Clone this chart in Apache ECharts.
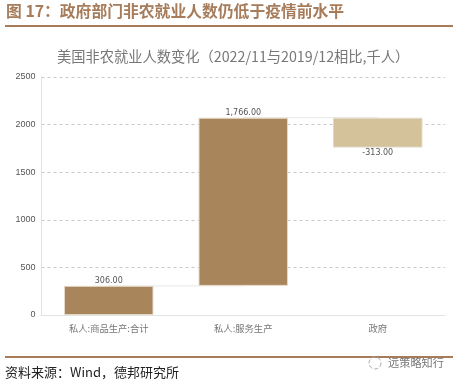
<!DOCTYPE html>
<html><head><meta charset="utf-8">
<style>html,body{margin:0;padding:0;background:#fff}#c{width:458px;height:383px}</style>
<script src="https://cdn.jsdelivr.net/npm/echarts@6/dist/echarts.min.js"></script>
</head><body><div id="c"></div>
<script>
const categories = ['私人:商品生产:合计', '私人:服务生产', '政府'];
const changes = [306, 1766, -313];
const baseValues = [0, 306, 1759];
const barHeights = [306, 1766, 313];
const barColors = ['#A9855C', '#A9855C', '#D3C29A'];
const connectorA = [306, 306, null];
const connectorB = [null, 2072, 2072];
const yTicks = [0, 500, 1000, 1500, 2000, 2500];
const cjk = '"Noto Sans CJK SC", sans-serif';
const fmt = v => v.toFixed(2).replace(/\B(?=(\d{3})+(?!\d))/g, ',');
const chart = echarts.init(document.getElementById('c'), null, {renderer: 'canvas'});
const connector = (d) => ({type: 'line', data: d, symbol: 'none', silent: true, z: 1, connectNulls: false,
  lineStyle: {color: '#E8E8E8', width: 1}});
chart.setOption({
  animation: false,
  backgroundColor: '#fff',
  grid: {left: 41.5, right: 13, top: 77, bottom: 68},
  title: [
    {text: '图 17：政府部门非农就业人数仍低于疫情前水平', left: 6, top: 3, padding: 0,
      textStyle: {fontFamily: cjk, fontSize: 15.8, fontWeight: 'bold', color: '#A67C5B'}},
    {text: '美国非农就业人数变化（2022/11与2019/12相比,千人）', left: 57, top: 49, padding: 0,
      textStyle: {fontFamily: cjk, fontSize: 14.25, fontWeight: 'normal', color: '#777'}},
    {text: '资料来源：Wind，德邦研究所', left: 5, top: 366, padding: 0,
      textStyle: {fontFamily: cjk, fontSize: 13, fontWeight: 'normal', color: '#222'}},
    {text: '远策略知行', left: 388, top: 357, padding: 0,
      textStyle: {fontFamily: cjk, fontSize: 11.2, fontWeight: 'normal', color: '#777'}}
  ],
  graphic: [
    {type: 'rect', shape: {x: 5, y: 25, width: 448, height: 2}, style: {fill: '#A67C5B'}},
    {type: 'rect', shape: {x: 5, y: 356, width: 448, height: 2}, style: {fill: '#A67C5B'}},
    {type: 'circle', shape: {cx: 375, cy: 363, r: 6}, style: {fill: 'none', stroke: '#aaa', lineWidth: 1, lineDash: [4, 2]}}
  ],
  xAxis: {
    type: 'category', data: categories,
    axisLine: {lineStyle: {color: '#E2E2E2'}}, axisTick: {show: false},
    axisLabel: {fontFamily: cjk, fontSize: 9.3, color: '#777', margin: 9}
  },
  yAxis: {
    type: 'value', min: yTicks[0], max: yTicks[yTicks.length - 1], interval: 500,
    axisLine: {show: true, lineStyle: {color: '#E2E2E2'}}, axisTick: {show: false},
    axisLabel: {fontFamily: '"Liberation Sans", sans-serif', fontSize: 9, color: '#555', margin: 6, formatter: v => String(v)},
    splitLine: {lineStyle: {color: '#C8C8C8', type: [3, 3], width: 1}}
  },
  series: [
    connector(connectorA),
    connector(connectorB),
    {type: 'bar', stack: 'w', barWidth: '66.5%', z: 2, data: baseValues, itemStyle: {color: 'transparent'}},
    {type: 'bar', stack: 'w', z: 2,
      data: barHeights.map((h, i) => ({
        value: h,
        itemStyle: {color: barColors[i], borderColor: '#E3D9C8', borderWidth: 1},
        label: {show: true, position: changes[i] < 0 ? 'bottom' : 'top', distance: 1,
          formatter: fmt(changes[i]), fontFamily: '"DejaVu Sans", sans-serif', fontSize: 8, color: '#555'}
      }))}
  ]
});
</script></body></html>
